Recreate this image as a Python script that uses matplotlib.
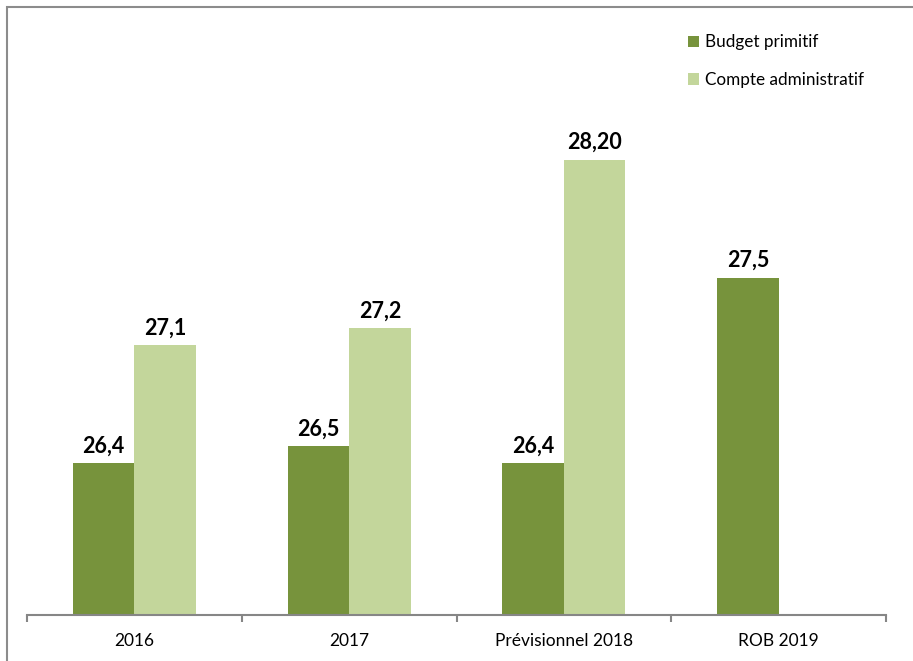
import numpy as np
import matplotlib
matplotlib.use("Agg")
import matplotlib.pyplot as plt
from matplotlib.patches import Rectangle

plt.rcParams['font.family'] = ['Lato', 'DejaVu Sans']

categories = ["2016", "2017", "Prévisionnel 2018", "ROB 2019"]
budget_primitif = [26.4, 26.5, 26.4, 27.5]
compte_admin = [27.1, 27.2, 28.2, np.nan]
labels_bp = ["26,4", "26,5", "26,4", "27,5"]
labels_ca = ["27,1", "27,2", "28,20", ""]

dark = "#77933C"
light = "#C3D69B"

fig = plt.figure(figsize=(9.13, 6.61), dpi=100)
# cadre gris autour du graphique
fig.patches.append(Rectangle((7 / 913, -0.1), 1.2, (661 - 7) / 661 + 0.1, transform=fig.transFigure,
                             fill=False, edgecolor="#8c8c8c", linewidth=1.5))

ax = fig.add_axes([27 / 913, 46 / 661, (886 - 27) / 913, 590 / 661])
x = np.arange(len(categories))
w = 0.286

b1 = ax.bar(x - w / 2, budget_primitif, w, bottom=0, color=dark, label="Budget primitif")
b2 = ax.bar(x + w / 2, compte_admin, w, color=light, label="Compte administratif")

for i in range(len(categories)):
    ax.annotate(labels_bp[i], (x[i] - w / 2, budget_primitif[i]), xytext=(0, 5), textcoords="offset points",
                ha="center", va="bottom", fontsize=15.5, fontweight="bold")
    if not np.isnan(compte_admin[i]):
        ax.annotate(labels_ca[i], (x[i] + w / 2, compte_admin[i]), xytext=(0, 5), textcoords="offset points",
                    ha="center", va="bottom", fontsize=15.5, fontweight="bold")

ax.set_ylim(25.5, 29.0)
ax.set_xlim(-0.5, len(categories) - 0.5)
for s in ["top", "right", "left"]:
    ax.spines[s].set_visible(False)
ax.spines["bottom"].set_color("#868686")
ax.spines["bottom"].set_linewidth(1.5)
ax.set_yticks([])
ax.set_xticks(np.arange(len(categories) + 1) - 0.5, minor=False)
ax.set_xticklabels([])
ax.tick_params(axis="x", which="major", length=5, width=1.5, color="#868686")
ax.set_xticks(x, minor=True)
ax.set_xticklabels(categories, minor=True, fontsize=12.5)
ax.tick_params(axis="x", which="minor", length=0, pad=13)

ax.legend(loc="upper left", bbox_to_anchor=(0.752, 1.01), frameon=False, fontsize=12.3,
          handlelength=0.65, handleheight=0.65, handletextpad=0.3, labelspacing=1.25)

fig.savefig("out.png", dpi=100)
